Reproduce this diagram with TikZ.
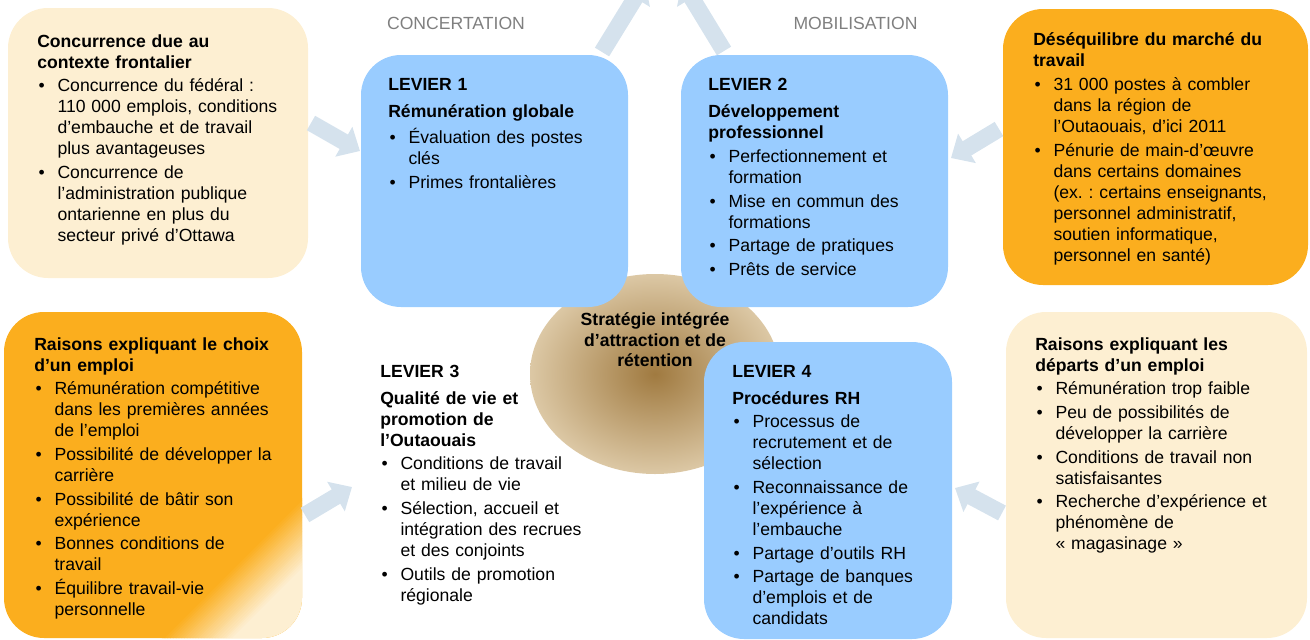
\documentclass[tikz,border=0pt]{standalone}
\usepackage{fontspec}
\setmainfont{Liberation Sans}
\usetikzlibrary{arrows.meta,fit,shapes.geometric}
\definecolor{cream}{HTML}{FDEFD2}
\definecolor{orng}{HTML}{FBAE1E}
\definecolor{lblue}{HTML}{99CCFF}
\definecolor{arr}{HTML}{D5E2ED}
\definecolor{gtxt}{HTML}{7F7F7F}
\definecolor{brdark}{HTML}{A07A40}
\definecolor{brlight}{HTML}{DCC8A5}
\setlength{\parindent}{0pt}
\frenchspacing
\newcommand{\bitem}[1]{\par\vspace{2pt}\noindent\hangindent=15.2pt\hangafter=1\hbox to 15.2pt{\hskip1pt\textbullet\hfil}{\let\\\newline #1}}
\newcommand{\ttl}[1]{\noindent\strut{\bfseries #1}}
\newcommand{\lev}[1]{\noindent\strut{\bfseries #1}\par\vspace{4.5pt}}
\begin{document}
\begin{tikzpicture}[x=0.75pt,y=-0.75pt,
  box/.style={inner sep=0pt, rounded corners=30pt},
  txt/.style={anchor=north west, inner sep=0pt, align=left, text width=230pt, font=\fontsize{13.2}{15.75}\selectfont},
  flow/.style={line width=12.5pt, draw=arr, -{Triangle[width=25pt,length=14pt]}},
  lbl/.style={inner sep=0pt, text=gtxt, font=\fontsize{13.2}{15.75}\selectfont}]
\useasboundingbox (0,0) rectangle (1310,639);

% central core
\node[ellipse, inner sep=0pt, minimum width=187.5pt, minimum height=150pt, inner color=brdark, outer color=brlight] (core) at (655,374) {};

% boxes
\node[box, fill=cream, fit={(8,8)(308,278)}] (b1) {};
\node[box, fill=lblue, fit={(361,55)(628,307)}] (l1) {};
\node[box, fill=lblue, fit={(681,55)(948,307)}] (l2) {};
\node[box, fill=orng, fit={(1003,9)(1308,285)}] (b4) {};
\node[box, fill=orng, fit={(4,312)(302,638)}] (b5) {};
\node[box, fill=lblue, fit={(704,342)(952,639)}] (l4) {};
\node[box, fill=cream, fit={(1006,312)(1307,638)}] (b8) {};

% reflection on box 5
\begin{scope}
\clip[rounded corners=30pt] (4,312) rectangle (302,638);
\foreach \i in {0,...,24} {
  \pgfmathsetmacro\ca{800+2.8*\i}
  \pgfmathsetmacro\cb{\ca+3.3}
  \pgfmathtruncatemacro\pc{4*\i}
  \fill[cream!\pc!orng] (\ca,0) -- (\cb,0) -- (\cb-700,700) -- (\ca-700,700) -- cycle;
}
\fill[cream] (870,0) -- (1300,0) -- (600,700) -- (170,700) -- cycle;
\end{scope}

% arrows
\coordinate (a1s) at (311,123); \coordinate (a1e) at (360,151);
\coordinate (a2s) at (602,52);  \coordinate (a2e) at (645,-18);
\coordinate (a3s) at (724,51);  \coordinate (a3e) at (682,-18);
\coordinate (a4s) at (999,129); \coordinate (a4e) at (951,158);
\coordinate (a5s) at (305,515); \coordinate (a5e) at (352,487);
\coordinate (a6s) at (1002,513); \coordinate (a6e) at (955,488);
\draw[flow] (a1s) -- (a1e);
\draw[flow] (a2s) -- (a2e);
\draw[flow] (a3s) -- (a3e);
\draw[flow] (a4s) -- (a4e);
\draw[flow] (a5s) -- (a5e);
\draw[flow] (a6s) -- (a6e);

% labels
\node[lbl] (conc) at (456,23.5) {CONCERTATION};
\node[lbl] (mobi) at (855.5,23.5) {MOBILISATION};

% texts
\node[txt] (t1) at (37,32.3) {\ttl{Concurrence due au\\contexte frontalier}
\bitem{Concurrence du fédéral~:\\110~000 emplois, conditions\\d’embauche et de travail\\plus avantageuses}
\bitem{Concurrence de\\l’administration publique\\ontarienne en plus du\\secteur privé d’Ottawa}\par};

\node[txt] (tl1) at (388,76) {\lev{LEVIER 1}\ttl{Rémunération globale}
\bitem{Évaluation des postes\\clés}
\bitem{Primes frontalières}\par};

\node[txt] (tl2) at (708,76) {\lev{LEVIER 2}\ttl{Développement\\professionnel}
\bitem{Perfectionnement et\\formation}
\bitem{Mise en commun des\\formations}
\bitem{Partage de pratiques}
\bitem{Prêts de service}\par};

\node[txt] (t4) at (1033,31) {\ttl{Déséquilibre du marché du\\travail}
\bitem{31~000 postes à combler\\dans la région de\\l’Outaouais, d’ici 2011}
\bitem{Pénurie de main-d’œuvre\\dans certains domaines\\(ex.~: certains enseignants,\\personnel administratif,\\soutien informatique,\\personnel en santé)}\par};

\node[txt] (t5) at (34,335.3) {\ttl{Raisons expliquant le choix\\d’un emploi}
\bitem{Rémunération compétitive\\dans les premières années\\de l’emploi}
\bitem{Possibilité de développer la\\carrière}
\bitem{Possibilité de bâtir son\\expérience}
\bitem{Bonnes conditions de\\travail}
\bitem{Équilibre travail-vie\\personnelle}\par};

\node[txt] (tl3) at (380,362.3) {\lev{LEVIER 3}\ttl{Qualité de vie et\\promotion de\\l’Outaouais}
\bitem{Conditions de travail\\et milieu de vie}
\bitem{Sélection, accueil et\\intégration des recrues\\et des conjoints}
\bitem{Outils de promotion\\régionale}\par};

\node[txt] (tl4) at (732,362.3) {\lev{LEVIER 4}\ttl{Procédures RH}
\bitem{Processus de\\recrutement et de\\sélection}
\bitem{Reconnaissance de\\l’expérience à\\l’embauche}
\bitem{Partage d’outils RH}
\bitem{Partage de banques\\d’emplois et de\\candidats}\par};

\node[txt] (t8) at (1035,335.3) {\ttl{Raisons expliquant les\\départs d’un emploi}
\bitem{Rémunération trop faible}
\bitem{Peu de possibilités de\\développer la carrière}
\bitem{Conditions de travail non\\satisfaisantes}
\bitem{Recherche d’expérience et\\phénomène de\\«~magasinage~»}\par};

% core text
\node[anchor=north, inner sep=0pt, align=center, font=\bfseries\fontsize{13.2}{15.4}\selectfont] (ctext) at (655,311) {\strut Stratégie intégrée\\d’attraction et de\\rétention};
\end{tikzpicture}
\end{document}
